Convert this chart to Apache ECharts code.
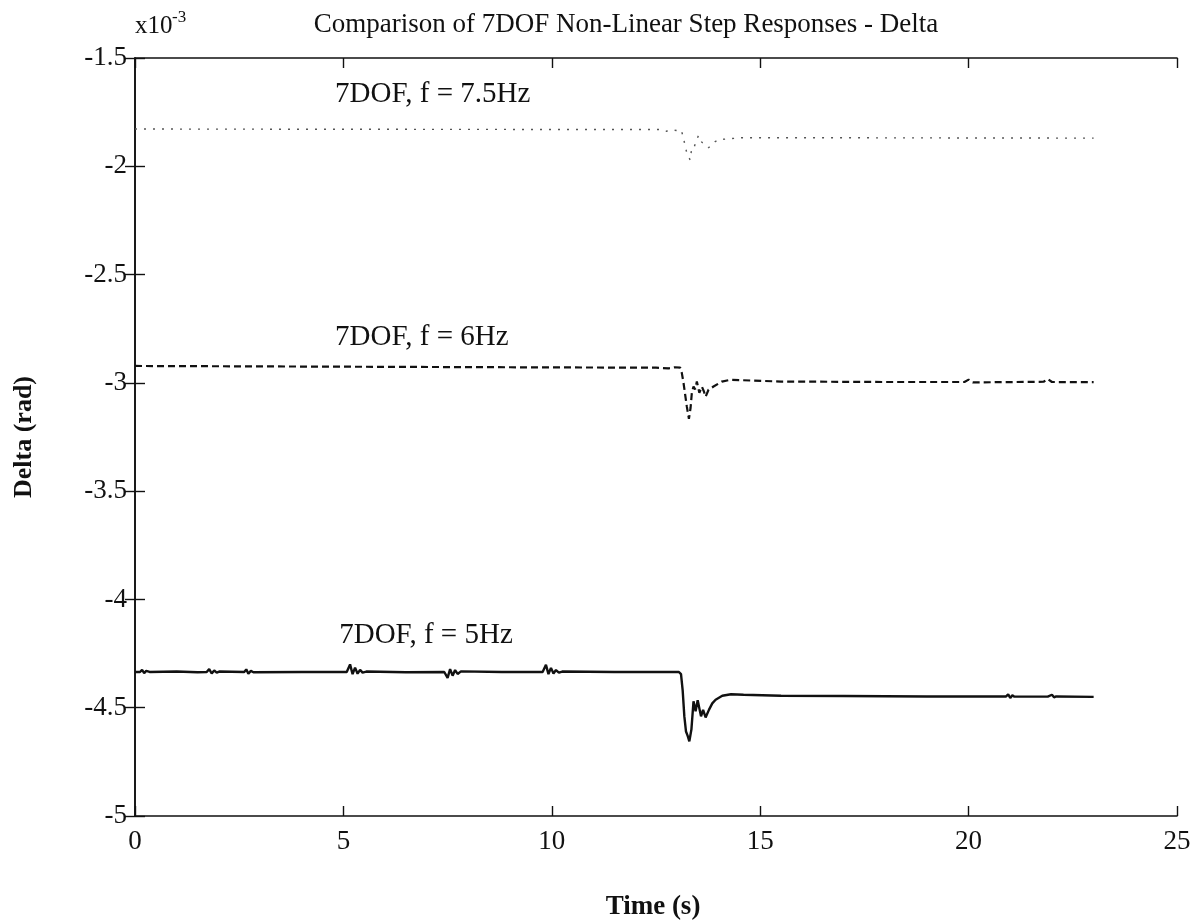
<!DOCTYPE html>
<html>
<head>
<meta charset="utf-8">
<script src="https://cdn.jsdelivr.net/npm/echarts@6/dist/echarts.min.js"></script>
<style>
  html, body { margin: 0; padding: 0; background: #ffffff; }
  #chart { width: 1195px; height: 924px; }
</style>
</head>
<body>
<div id="chart"></div>
<script>
// Step responses of the steering angle (Delta, x10^-3 rad) for three model frequencies.
// Each entry is [time (s), delta (x10^-3 rad)].
const resp75Hz = [
  [0, -1.828], [5, -1.829], [10, -1.830], [12.6, -1.830], [12.75, -1.838], [12.9, -1.832],
  [13.0, -1.835], [13.1, -1.832], [13.15, -1.860], [13.18, -1.889], [13.24, -1.940],
  [13.32, -1.971], [13.36, -1.912], [13.42, -1.909], [13.47, -1.880], [13.52, -1.858],
  [13.6, -1.889], [13.69, -1.901], [13.76, -1.914], [13.84, -1.900], [13.92, -1.886],
  [14.0, -1.877], [14.55, -1.868], [15.5, -1.868], [23.0, -1.870]
];

const resp6Hz = [
  [0, -2.922], [3, -2.924], [6, -2.926], [9, -2.928], [12.5, -2.930], [12.8, -2.933],
  [12.95, -2.928], [13.08, -2.930], [13.12, -2.955], [13.16, -3.000], [13.2, -3.055],
  [13.24, -3.110], [13.29, -3.166], [13.33, -3.115], [13.36, -3.046], [13.40, -3.017],
  [13.44, -3.030], [13.48, -2.994], [13.54, -3.046], [13.6, -3.017], [13.65, -3.040],
  [13.69, -3.064], [13.76, -3.032], [13.88, -3.017], [14.08, -2.994], [14.28, -2.986],
  [15.5, -2.994], [18.0, -2.996], [19.9, -2.996], [20.0, -2.985], [20.1, -2.998],
  [21.8, -2.995], [21.9, -2.982], [22.0, -2.996], [23.0, -2.997]
];

const resp5Hz = [
  [0, -4.335], [0.12, -4.335], [0.17, -4.325], [0.22, -4.340], [0.27, -4.330], [0.35, -4.335],
  [1.0, -4.333], [1.5, -4.336], [1.72, -4.335], [1.78, -4.322], [1.84, -4.342], [1.9, -4.328],
  [1.96, -4.338], [2.02, -4.333], [2.62, -4.335], [2.67, -4.323], [2.72, -4.343], [2.78, -4.330],
  [2.84, -4.336], [4.0, -4.335], [5.08, -4.335], [5.16, -4.300], [5.22, -4.345], [5.28, -4.315],
  [5.34, -4.343], [5.40, -4.325], [5.46, -4.338], [5.55, -4.333], [6.5, -4.336], [7.42, -4.335],
  [7.5, -4.362], [7.56, -4.322], [7.62, -4.352], [7.68, -4.326], [7.74, -4.344], [7.82, -4.332],
  [8.8, -4.335], [9.78, -4.335], [9.86, -4.302], [9.92, -4.345], [9.98, -4.316], [10.04, -4.342],
  [10.1, -4.326], [10.17, -4.338], [10.25, -4.333], [11.5, -4.335], [13.05, -4.335],
  [13.1, -4.345], [13.14, -4.420], [13.18, -4.540], [13.22, -4.610], [13.26, -4.630],
  [13.3, -4.655], [13.35, -4.600], [13.4, -4.470], [13.45, -4.516], [13.5, -4.466],
  [13.58, -4.540], [13.63, -4.510], [13.69, -4.545], [13.77, -4.510], [13.85, -4.480],
  [13.93, -4.463], [14.09, -4.445], [14.3, -4.438], [14.6, -4.440], [15.5, -4.445],
  [17.0, -4.446], [19.0, -4.448], [20.9, -4.448], [20.95, -4.438], [21.0, -4.455],
  [21.05, -4.443], [21.1, -4.449], [21.9, -4.449], [22.0, -4.440], [22.05, -4.452],
  [22.1, -4.448], [23.0, -4.450]
];

// Axis extents and tick spacing
const xRange = { min: 0, max: 25, step: 5 };
const yRange = { min: -5, max: -1.5, step: 0.5 };

// Curve annotations: text and anchor point [time, delta]
const curveNames = [
  { text: '7DOF, f = 7.5Hz', at: [4.8, -1.67] },
  { text: '7DOF, f = 6Hz',   at: [4.8, -2.79] },
  { text: '7DOF, f = 5Hz',   at: [4.9, -4.165] }
];

const titleText = 'Comparison of 7DOF Non-Linear Step Responses - Delta';
const xName = 'Time (s)';
const yName = 'Delta (rad)';

const FONT = '"Liberation Serif", "Times New Roman", serif';
const INK = '#111111';

const chart = echarts.init(document.getElementById('chart'), null, { renderer: 'canvas' });

function axisCommon(extra) {
  return Object.assign({
    type: 'value',
    axisLine: { show: true, lineStyle: { color: INK, width: 1.6 } },
    axisTick: { show: true, inside: true, length: 10, lineStyle: { color: INK, width: 1.4 } },
    splitLine: { show: false }
  }, extra);
}

const option = {
  backgroundColor: '#ffffff',
  animation: false,
  grid: { left: 135, top: 58, right: 18, bottom: 108, containLabel: false },
  xAxis: [
    axisCommon({
      position: 'bottom', min: xRange.min, max: xRange.max, interval: xRange.step,
      axisLabel: { color: INK, fontFamily: FONT, fontSize: 27, margin: 12 }
    }),
    axisCommon({
      position: 'top', min: xRange.min, max: xRange.max, interval: xRange.step,
      axisLabel: { show: false }
    })
  ],
  yAxis: [
    axisCommon({
      position: 'left', min: yRange.min, max: yRange.max, interval: yRange.step,
      axisLabel: { color: INK, fontFamily: FONT, fontSize: 27, margin: 8 }
    }),
    axisCommon({
      position: 'right', min: yRange.min, max: yRange.max, interval: yRange.step,
      axisLabel: { show: false }
    })
  ],
  series: [
    {
      name: '7DOF, f = 7.5Hz', type: 'line', data: resp75Hz, showSymbol: false,
      lineStyle: { color: '#555555', width: 1.4, type: [2, 7] }
    },
    {
      name: '7DOF, f = 6Hz', type: 'line', data: resp6Hz, showSymbol: false,
      lineStyle: { color: INK, width: 2.2, type: [7, 4] }
    },
    {
      name: '7DOF, f = 5Hz', type: 'line', data: resp5Hz, showSymbol: false,
      lineStyle: { color: INK, width: 2.4, type: 'solid' }
    }
  ]
};

chart.setOption(option);

// Text placed in data coordinates so it follows the axes
const gfx = [];
curveNames.forEach(function (c) {
  const p = chart.convertToPixel({ gridIndex: 0 }, c.at);
  gfx.push({
    type: 'text', x: p[0], y: p[1],
    style: { text: c.text, fill: INK, font: '29px ' + FONT, textAlign: 'left', textVerticalAlign: 'middle' }
  });
});

gfx.push({
  type: 'text', x: 626, y: 25,
  style: { text: titleText, fill: INK, font: '27px ' + FONT, textAlign: 'center', textVerticalAlign: 'middle' }
});
gfx.push({
  type: 'text', x: 135, y: 26,
  style: { text: 'x10', fill: INK, font: '25px ' + FONT, textAlign: 'left', textVerticalAlign: 'middle' }
});
gfx.push({
  type: 'text', x: 172, y: 18,
  style: { text: '-3', fill: INK, font: '17px ' + FONT, textAlign: 'left', textVerticalAlign: 'middle' }
});
gfx.push({
  type: 'text', x: 653, y: 907,
  style: { text: xName, fill: INK, font: 'bold 27px ' + FONT, textAlign: 'center', textVerticalAlign: 'middle' }
});
gfx.push({
  type: 'text', x: 24, y: 437, rotation: Math.PI / 2,
  style: { text: yName, fill: INK, font: 'bold 26px ' + FONT, textAlign: 'center', textVerticalAlign: 'middle' }
});

chart.setOption({ graphic: gfx });
</script>
</body>
</html>
